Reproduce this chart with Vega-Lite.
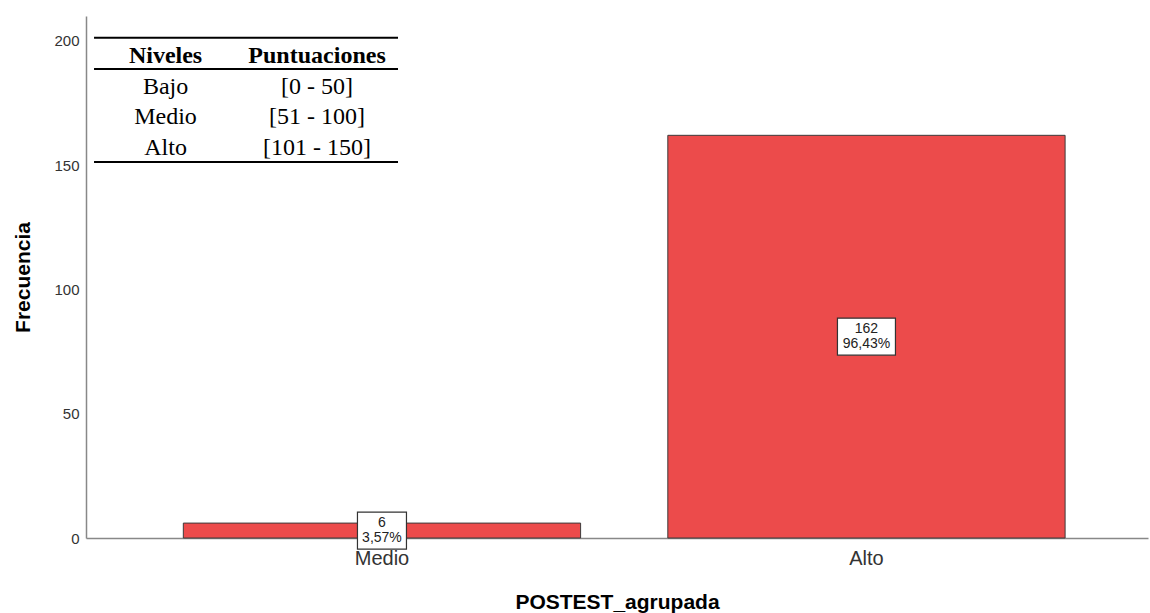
{
  "$schema": "https://vega.github.io/schema/vega-lite/v6.json",
  "width": 1062,
  "height": 522,
  "autosize": {"type": "none"},
  "padding": {"left": 86, "top": 16, "right": 2, "bottom": 75},
  "background": "white",
  "config": {"view": {"stroke": null}, "font": "Liberation Sans"},
  "datasets": {
    "barras": [
      {"cat": "Medio", "n": 6, "pct": "3,57%"},
      {"cat": "Alto", "n": 162, "pct": "96,43%"}
    ],
    "tabla": [
      {"col": 1, "fila": 0, "texto": "Niveles"},
      {"col": 3, "fila": 0, "texto": "Puntuaciones"},
      {"col": 1, "fila": 1, "texto": "Bajo"},
      {"col": 3, "fila": 1, "texto": "[0 - 50]"},
      {"col": 1, "fila": 2, "texto": "Medio"},
      {"col": 3, "fila": 2, "texto": "[51 - 100]"},
      {"col": 1, "fila": 3, "texto": "Alto"},
      {"col": 3, "fila": 3, "texto": "[101 - 150]"}
    ],
    "lineas": [
      {"fila": -0.84},
      {"fila": 0.18},
      {"fila": 3.23}
    ]
  },
  "layer": [
    {
      "data": {"name": "barras"},
      "layer": [
        {
          "mark": {"type": "bar", "fill": "#ec4b4b", "stroke": "#3c3c3c", "strokeWidth": 1},
          "encoding": {
            "x": {
              "field": "cat", "type": "nominal", "sort": ["Medio", "Alto"],
              "scale": {"paddingInner": 0.18, "paddingOuter": 0.186, "align": 0.54},
              "axis": {
                "title": "POSTEST_agrupada", "titleFontSize": 21, "titleFontWeight": "bold", "titleColor": "#000000",
                "titlePadding": 23, "labelAngle": 0, "labelFontSize": 20, "labelColor": "#333333", "labelPadding": 10,
                "ticks": false, "domainColor": "#888888", "domainWidth": 1.5
              }
            },
            "y": {
              "field": "n", "type": "quantitative",
              "scale": {"domain": [0, 210], "nice": false},
              "axis": {
                "title": "Frecuencia", "titleFontSize": 21, "titleFontWeight": "bold", "titleColor": "#000000",
                "titlePadding": 20, "values": [0, 50, 100, 150, 200], "labelFontSize": 15, "labelColor": "#333333",
                "labelPadding": 7, "ticks": false, "grid": false, "domainColor": "#888888", "domainWidth": 1.5
              }
            }
          }
        },
        {
          "encoding": {
            "x": {"field": "cat", "type": "nominal", "sort": ["Medio", "Alto"],
                  "scale": {"paddingInner": 0.18, "paddingOuter": 0.186, "align": 0.54}},
            "y": {"field": "n", "type": "quantitative", "scale": {"domain": [0, 420], "nice": false}, "axis": null}
          },
          "layer": [
            {
              "mark": {"type": "point", "filled": true, "fill": "white", "stroke": "#333333", "strokeWidth": 1.2, "opacity": 1, "size": 3364},
              "encoding": {
                "shape": {
                  "field": "cat", "type": "nominal", "legend": null,
                  "scale": {
                    "domain": ["Medio", "Alto"],
                    "range": ["M-0.845,-0.638L0.845,-0.638L0.845,0.638L-0.845,0.638Z", "M-1,-0.638L1,-0.638L1,0.638L-1,0.638Z"]
                  }
                }
              }
            },
            {
              "mark": {"type": "text", "fontSize": 14, "color": "#222222", "dy": -7.5, "baseline": "middle"},
              "encoding": {"text": {"field": "n", "type": "quantitative"}}
            },
            {
              "mark": {"type": "text", "fontSize": 14, "color": "#222222", "dy": 7.5, "baseline": "middle"},
              "encoding": {"text": {"field": "pct", "type": "nominal"}}
            }
          ]
        }
      ],
      "resolve": {"scale": {"y": "independent"}}
    },
    {
      "encoding": {},
      "layer": [
        {
          "data": {"name": "tabla"},
          "transform": [{"filter": "datum.fila == 0"}],
          "mark": {"type": "text", "font": "Liberation Serif", "fontSize": 24, "fontWeight": "bold", "color": "#000000", "baseline": "alphabetic"},
          "encoding": {
            "x": {"field": "col", "type": "quantitative", "scale": {"domain": [-0.05, 13.97], "nice": false, "zero": false}, "axis": null},
            "y": {"field": "fila", "type": "quantitative", "scale": {"domain": [-1.557, 15.557], "nice": false, "zero": false, "reverse": true}, "axis": null},
            "text": {"field": "texto"}
          }
        },
        {
          "data": {"name": "tabla"},
          "transform": [{"filter": "datum.fila > 0"}],
          "mark": {"type": "text", "font": "Liberation Serif", "fontSize": 24, "color": "#000000", "baseline": "alphabetic"},
          "encoding": {
            "x": {"field": "col", "type": "quantitative", "axis": null},
            "y": {"field": "fila", "type": "quantitative", "axis": null},
            "text": {"field": "texto"}
          }
        },
        {
          "data": {"name": "lineas"},
          "mark": {"type": "rule", "color": "#000000", "strokeWidth": 2},
          "encoding": {
            "x": {"datum": 0.056, "type": "quantitative", "axis": null},
            "x2": {"datum": 4.069},
            "y": {"field": "fila", "type": "quantitative", "axis": null}
          }
        }
      ]
    }
  ],
  "resolve": {"scale": {"x": "independent", "y": "independent"}}
}
